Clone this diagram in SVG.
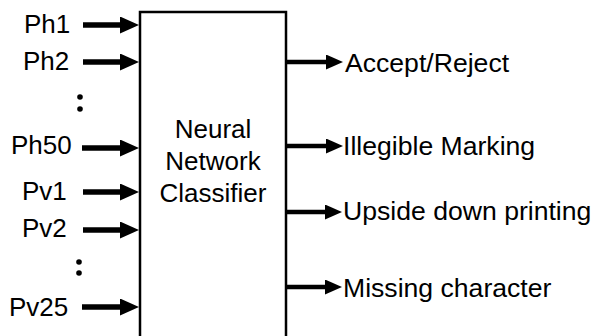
<svg xmlns="http://www.w3.org/2000/svg" width="595" height="336" viewBox="0 0 595 336">
<style>
text{font-family:"Liberation Sans",Arial,sans-serif;font-size:26px;fill:#000}
.r{font-size:26.6px}
.in{stroke:#000;stroke-width:5.5;fill:none}
.out{stroke:#000;stroke-width:4.5;fill:none}
.box{fill:#fff;stroke:#000;stroke-width:2.5}
</style>
<defs>
<marker id="ahIn" markerUnits="userSpaceOnUse" viewBox="0 0 19 17" markerWidth="19" markerHeight="17" refX="0" refY="8.5" orient="auto"><path d="M0,0 L19,8.5 L0,17 Z" fill="#000"/></marker>
<marker id="ahOut" markerUnits="userSpaceOnUse" viewBox="0 0 17 15" markerWidth="17" markerHeight="15" refX="0" refY="7.5" orient="auto"><path d="M0,0 L17,7.5 L0,15 Z" fill="#000"/></marker>
</defs>
<rect width="595" height="336" fill="#fff"/>
<g id="classifier">
<rect class="box" x="140" y="12" width="146" height="340"/>
<text x="213" y="138" text-anchor="middle">Neural</text>
<text x="213" y="170" text-anchor="middle">Network</text>
<text x="213" y="202" text-anchor="middle">Classifier</text>
</g>
<g id="inputs">
<text x="24" y="33">Ph1</text>
<text x="23" y="70">Ph2</text>
<text x="11" y="154">Ph50</text>
<text x="22" y="200">Pv1</text>
<text x="22" y="237">Pv2</text>
<text x="9" y="316">Pv25</text>
<circle cx="80" cy="97" r="2.8"/>
<circle cx="80" cy="109" r="2.8"/>
<circle cx="79" cy="262" r="2.8"/>
<circle cx="79" cy="273" r="2.8"/>
</g>
<g id="outputs">
<text class="r" x="345" y="72">Accept/Reject</text>
<text class="r" x="343" y="155">Illegible Marking</text>
<text class="r" x="343" y="220">Upside down printing</text>
<text class="r" x="343" y="297">Missing character</text>
</g>
<g id="connectors">
<line class="in" x1="83" y1="25" x2="120" y2="25" marker-end="url(#ahIn)"/>
<line class="in" x1="83" y1="62" x2="120" y2="62" marker-end="url(#ahIn)"/>
<line class="in" x1="82" y1="148" x2="120" y2="148" marker-end="url(#ahIn)"/>
<line class="in" x1="83" y1="192" x2="120" y2="192" marker-end="url(#ahIn)"/>
<line class="in" x1="83" y1="230" x2="120" y2="230" marker-end="url(#ahIn)"/>
<line class="in" x1="82" y1="307" x2="120" y2="307" marker-end="url(#ahIn)"/>
<line class="out" x1="287" y1="62" x2="326" y2="62" marker-end="url(#ahOut)"/>
<line class="out" x1="287" y1="146" x2="326" y2="146" marker-end="url(#ahOut)"/>
<line class="out" x1="287" y1="212" x2="325" y2="212" marker-end="url(#ahOut)"/>
<line class="out" x1="287" y1="287" x2="325" y2="287" marker-end="url(#ahOut)"/>
</g>
</svg>
